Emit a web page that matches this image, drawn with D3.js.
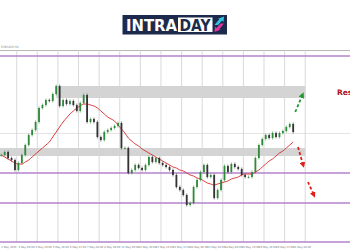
<!DOCTYPE html>
<html>
<head>
<meta charset="utf-8">
<script src="https://cdn.jsdelivr.net/npm/d3@7"></script>
<style>
  body { margin: 0; background: #fff; }
  svg { display: block; }
</style>
</head>
<body>
<div class="chart"></div>
<script>
// H4 closes, one per bar (bar 0 = 1 May 04:00)
const closes = [
  1.0802, 1.0808, 1.0796, 1.0792, 1.0772, 1.0786, 1.0802, 1.0822, 1.0842, 1.0852,
  1.0868, 1.0896, 1.0902, 1.0912, 1.0910, 1.0924, 1.0940, 1.0900, 1.0912, 1.0904,
  1.0910, 1.0902, 1.0890, 1.0906, 1.0922, 1.0868, 1.0874, 1.0868, 1.0838, 1.0832,
  1.0848, 1.0852, 1.0856, 1.0860, 1.0866, 1.0816, 1.0816, 1.0766, 1.0772, 1.0782,
  1.0776, 1.0772, 1.0782, 1.0798, 1.0788, 1.0796, 1.0786, 1.0782, 1.0778, 1.0772,
  1.0762, 1.0738, 1.0732, 1.0722, 1.0702, 1.0706, 1.0738, 1.0752, 1.0768, 1.0782,
  1.0758, 1.0762, 1.0716, 1.0732, 1.0752, 1.0780, 1.0768, 1.0784, 1.0778, 1.0774,
  1.0762, 1.0758, 1.0758, 1.0768, 1.0796, 1.0822, 1.0834, 1.0842, 1.0836, 1.0846,
  1.0838, 1.0846, 1.0850, 1.0858, 1.0864, 1.0848
];

// moving average (red)
const ma = [
  1.0802, 1.0798, 1.0794, 1.0790, 1.0786, 1.0784, 1.0784, 1.0788, 1.0792, 1.0798,
  1.0804, 1.0810, 1.0816, 1.0822, 1.0828, 1.0838, 1.0848, 1.0858, 1.0868, 1.0876,
  1.0884, 1.0890, 1.0896, 1.0900, 1.0904, 1.0904, 1.0902, 1.0900, 1.0896, 1.0890,
  1.0884, 1.0878, 1.0874, 1.0870, 1.0862, 1.0854, 1.0846, 1.0836, 1.0830, 1.0824,
  1.0820, 1.0814, 1.0810, 1.0806, 1.0802, 1.0798, 1.0794, 1.0790, 1.0786, 1.0782,
  1.0778, 1.0776, 1.0772, 1.0770, 1.0766, 1.0762, 1.0760, 1.0756, 1.0754, 1.0750,
  1.0746, 1.0744, 1.0742, 1.0744, 1.0746, 1.0748, 1.0750, 1.0754, 1.0756, 1.0758,
  1.0762, 1.0764, 1.0764, 1.0764, 1.0768, 1.0772, 1.0778, 1.0784, 1.0790, 1.0794,
  1.0800, 1.0806, 1.0810, 1.0816, 1.0822, 1.0828
];

// support / resistance lines (purple) and zones (grey)
const levels = [1.1000, 1.0766, 1.0706, 1.0628];
const zones = [
  { from: 16, lo: 1.0916, hi: 1.0940 },
  { from: -1, lo: 1.0800, hi: 1.0816 }
];
const gridPrices = [1.1012, 1.0846];

// x axis labels, every 5 bars
const tickBars = [0, 5, 10, 15, 20, 25, 30, 35, 40, 45, 50, 55, 60, 65, 70, 75, 80, 85];
const tickLabels = [
  '1 May 2020', '4 May 00:00', '4 May 20:00', '5 May 16:00', '6 May 12:00', '7 May 08:00',
  '8 May 04:00', '11 May 00:00', '11 May 20:00', '12 May 16:00', '13 May 12:00', '14 May 08:00',
  '15 May 04:00', '18 May 00:00', '18 May 20:00', '19 May 16:00', '20 May 12:00', '21 May 08:00'
];

// projected moves
const arrows = [
  { type: 'up', b0: 85.6, p0: 1.0888, b1: 87.7, p1: 1.0922 },
  { type: 'down', b0: 86.4, p0: 1.0818, b1: 87.9, p1: 1.0782 },
  { type: 'down', b0: 89.3, p0: 1.0748, b1: 91.0, p1: 1.0722 }
];

const width = 350, height = 250;

const svg = d3.select('.chart')
    .append('svg')
    .attr('width', width)
    .attr('height', height);

const x = d3.scaleLinear().domain([0, 85]).range([1.24, 293.2]);
const y = d3.scaleLinear().domain([1.0628, 1.1000]).range([242, 56]);
const xEnd = x(88.5);

const defs = svg.append('defs');
[['up', '#1f9a2e'], ['down', '#e0201c']].forEach(m => {
    defs.append('marker')
        .attr('id', 'head-' + m[0])
        .attr('viewBox', '0 0 10 10')
        .attr('refX', 5).attr('refY', 5)
        .attr('markerWidth', 3.2).attr('markerHeight', 3.2)
        .attr('orient', 'auto')
        .append('path')
        .attr('d', 'M0,0 L10,5 L0,10 z')
        .attr('fill', m[1]);
});

// ---- logo ----
const logo = svg.append('g');
logo.append('rect')
    .attr('x', 122.5).attr('y', 15).attr('width', 104.5).attr('height', 19.5)
    .attr('fill', '#1c2b4c');
logo.append('text')
    .attr('x', 126).attr('y', 30.5)
    .attr('textLength', 51).attr('lengthAdjust', 'spacingAndGlyphs')
    .style('font-family', 'DejaVu Sans, sans-serif')
    .style('font-weight', 'bold')
    .style('font-size', '15px')
    .attr('fill', '#fff')
    .text('INTRA');
logo.append('rect')
    .attr('x', 178).attr('y', 17.5).attr('width', 34.5).attr('height', 14.5)
    .attr('fill', '#fff');
logo.append('text')
    .attr('x', 179.5).attr('y', 30.5)
    .attr('textLength', 31).attr('lengthAdjust', 'spacingAndGlyphs')
    .style('font-family', 'DejaVu Sans, sans-serif')
    .style('font-weight', 'bold')
    .style('font-size', '15px')
    .attr('fill', '#1c2b4c')
    .text('DAY');
logo.append('path')
    .attr('d', 'M214.5,25 L219.5,19 L217.5,19 L224,16.5 L223.5,22 L222,20.5 L218,25 z')
    .attr('fill', '#33c3e3');
logo.append('path')
    .attr('d', 'M214.5,32 L215,26.5 L216.5,28 L220.5,23.5 L224,23.5 L219,29.5 L221,29.5 z')
    .attr('fill', '#e0359c');

// ---- grid ----
svg.append('text')
    .attr('x', 1).attr('y', 48)
    .style('font-family', 'DejaVu Sans, sans-serif')
    .style('font-size', '3px')
    .attr('fill', '#888')
    .text('EURUSD,H4');

svg.selectAll('.hgrid')
    .data(gridPrices)
    .enter().append('line')
    .attr('class', 'hgrid')
    .attr('x1', 0).attr('x2', width)
    .attr('y1', d => Math.round(y(d)) + 0.5).attr('y2', d => Math.round(y(d)) + 0.5)
    .attr('stroke', (d, i) => i === 0 ? '#b8b8b8' : '#e4e4e4')
    .attr('stroke-width', 1);

svg.selectAll('.vgrid')
    .data(d3.range(4.5, 89, 6))
    .enter().append('line')
    .attr('class', 'vgrid')
    .attr('x1', d => x(d)).attr('x2', d => x(d))
    .attr('y1', y(1.1012)).attr('y2', y(1.0628))
    .attr('stroke', '#cfcfcf')
    .attr('stroke-width', 0.8);

// ---- zones ----
svg.selectAll('.zone')
    .data(zones)
    .enter().append('rect')
    .attr('class', 'zone')
    .attr('x', d => Math.max(0, x(d.from)))
    .attr('width', d => xEnd - Math.max(0, x(d.from)))
    .attr('y', d => y(d.hi))
    .attr('height', d => y(d.lo) - y(d.hi))
    .attr('fill', '#d4d4d4');

// ---- levels ----
svg.selectAll('.level')
    .data(levels)
    .enter().append('line')
    .attr('class', 'level')
    .attr('x1', 0).attr('x2', width)
    .attr('y1', d => y(d)).attr('y2', d => y(d))
    .attr('stroke', '#b583cc')
    .attr('stroke-width', 1.4);

// ---- moving average ----
svg.append('path')
    .datum(ma)
    .attr('d', d3.line().x((d, i) => x(i)).y(d => y(d)).curve(d3.curveMonotoneX))
    .attr('fill', 'none')
    .attr('stroke', '#d62b2b')
    .attr('stroke-width', 0.9);

// ---- candles (open = previous close) ----
const candles = closes.map((c, i) => ({ i: i, o: i > 0 ? closes[i - 1] : c, c: c }));
const cg = svg.selectAll('.candle')
    .data(candles)
    .enter().append('g')
    .attr('class', 'candle');
cg.append('line')
    .attr('x1', d => x(d.i)).attr('x2', d => x(d.i))
    .attr('y1', d => y(Math.max(d.o, d.c)) - 1.5)
    .attr('y2', d => y(Math.min(d.o, d.c)) + 1.5)
    .attr('stroke', d => d.c >= d.o ? '#2f8a3a' : '#333')
    .attr('stroke-width', 0.6);
cg.append('rect')
    .attr('x', d => x(d.i) - 0.9)
    .attr('width', 1.8)
    .attr('y', d => y(Math.max(d.o, d.c)))
    .attr('height', d => Math.max(0.8, Math.abs(y(d.o) - y(d.c))))
    .attr('fill', d => d.c >= d.o ? '#2f8a3a' : '#333');

// ---- x axis labels ----
svg.selectAll('.xlab')
    .data(tickBars)
    .enter().append('text')
    .attr('class', 'xlab')
    .attr('x', d => x(d))
    .attr('y', 247.5)
    .style('font-family', 'DejaVu Sans, sans-serif')
    .style('font-size', '2.6px')
    .attr('fill', '#777')
    .text((d, i) => tickLabels[i]);

// ---- arrows ----
svg.selectAll('.arrow')
    .data(arrows)
    .enter().append('line')
    .attr('class', 'arrow')
    .attr('x1', d => x(d.b0)).attr('y1', d => y(d.p0))
    .attr('x2', d => x(d.b1)).attr('y2', d => y(d.p1))
    .attr('stroke', d => d.type === 'up' ? '#1f9a2e' : '#e0201c')
    .attr('stroke-width', 1.8)
    .attr('stroke-dasharray', '3,2.2')
    .attr('marker-end', d => 'url(#head-' + d.type + ')');

svg.append('text')
    .attr('x', 337).attr('y', 95)
    .style('font-family', 'DejaVu Sans, sans-serif')
    .style('font-weight', 'bold')
    .style('font-size', '7.5px')
    .attr('fill', '#a8101a')
    .text('Resistance');
</script>
</body>
</html>
